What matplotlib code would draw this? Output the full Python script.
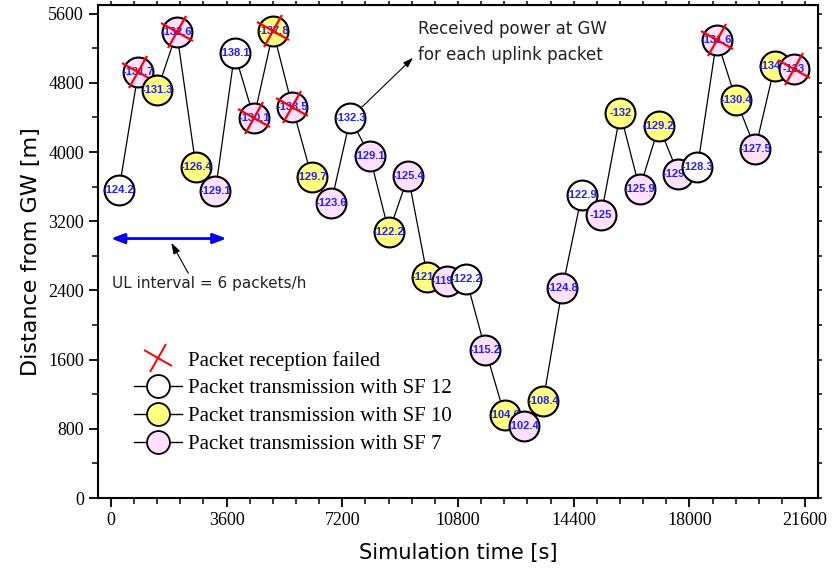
import numpy as np
import matplotlib
matplotlib.use('Agg')
import matplotlib.pyplot as plt
from matplotlib.lines import Line2D
from matplotlib.markers import MarkerStyle
from matplotlib.transforms import Affine2D

# uplink packets: send time [s], GW distance [m], spreading factor, RSSI [dBm]
t_sent = [250, 850, 1450, 2050, 2650, 3250, 3850, 4450, 5050, 5650, 6250, 6850,
          7450, 8050, 8650, 9250, 9850, 10450, 11050, 11650, 12250, 12850, 13450, 14050,
          14650, 15250, 15850, 16450, 17050, 17650, 18250, 18850, 19450, 20050, 20650, 21250]
dist = [3556, 4922, 4719, 5384, 3825, 3545, 5142, 4396, 5396, 4518, 3710, 3406,
        4391, 3960, 3075, 3722, 2555, 2506, 2537, 1717, 958, 831, 1123, 2433,
        3502, 3268, 4449, 3576, 4299, 3749, 3825, 5300, 4604, 4038, 4992, 4962]
sf = [12, 7, 10, 7, 10, 7, 12, 7, 10, 7, 10, 7,
      12, 7, 10, 7, 10, 7, 12, 7, 10, 7, 10, 7,
      12, 7, 10, 7, 10, 7, 12, 7, 10, 7, 10, 7]
rssi = ["-124.2", "-131.7", "-131.3", "-132.6", "-126.4", "-129.1", "-138.1", "-130.1",
        "-137.8", "-133.5", "-129.7", "-123.6", "-132.3", "-129.1", "-122.2", "-125.4",
        "-121.7", "-119.3", "-122.2", "-115.2", "-104.6", "-102.4", "-108.4", "-124.8",
        "-122.9", "-125", "-132", "-125.9", "-129.2", "-129.4", "-128.3", "-131.6",
        "-130.4", "-127.5", "-134.6", "-133"]
failed = [1, 3, 7, 8, 9, 31, 35]

sf_color = {12: 'white', 10: '#ffff80', 7: '#ffe0ff'}

fig = plt.figure(figsize=(8.32, 5.76), dpi=100)
ax = fig.add_axes([0.1178, 0.1354, 0.8654, 0.8559])

ax.plot(t_sent, dist, color='black', lw=0.9, zorder=1)

xmark = MarkerStyle('x', transform=Affine2D().rotate_deg(15))
for k in range(len(t_sent)):
    z = 3 + 3 * k
    ax.plot(t_sent[k], dist[k], 'o', ms=21.5, mfc=sf_color[sf[k]], mec='black',
            mew=1.5, zorder=z)
    ax.text(t_sent[k], dist[k], rssi[k], ha='center', va='center', color='#2020ff',
            fontsize=8, fontweight='bold', family='Liberation Sans', zorder=z + 1)
    if k in failed:
        ax.plot(t_sent[k], dist[k], marker=xmark, ms=19, mec='red', mew=1.6,
                ls='none', zorder=z + 2)

# UL interval marker
ax.annotate('', xy=(0, 3000), xytext=(3600, 3000),
            arrowprops=dict(arrowstyle='<|-|>,head_length=0.8,head_width=0.3',
                            color='blue', lw=2, shrinkA=0, shrinkB=0))
ax.annotate('UL interval = 6 packets/h', xy=(1880, 2950), xytext=(40, 2480),
            fontsize=11, color='#222222', va='center', ha='left',
            arrowprops=dict(arrowstyle='-|>,head_length=0.6,head_width=0.2',
                            color='black', lw=0.8, shrinkA=0, shrinkB=0,
                            relpos=(0.4, 1.0)))
ax.annotate('', xy=(9400, 5090), xytext=(t_sent[12], dist[12]),
            arrowprops=dict(arrowstyle='-|>,head_length=0.6,head_width=0.2',
                            color='black', lw=0.8, shrinkA=0, shrinkB=0), zorder=2)
ax.text(9560, 5270, 'Received power at GW\nfor each uplink packet', fontsize=12,
        color='#222222', va='center', ha='left', linespacing=1.55)

ax.set_xlim(-400, 22000)
ax.set_ylim(0, 5700)
xt = np.arange(0, 21601, 3600)
xm = np.arange(0, 21601, 720)
yt = np.arange(0, 5601, 800)
ym = np.arange(0, 5601, 400)
ax.set_xticks(xt)
ax.set_xticks(xm, minor=True)
ax.set_yticks(yt)
ax.set_yticks(ym, minor=True)
ax.tick_params(which='major', direction='out', length=6.5, width=1.3, labelsize=13)
ax.tick_params(which='minor', direction='out', length=4, width=1.1)
for lab in ax.get_xticklabels() + ax.get_yticklabels():
    lab.set_family('Liberation Serif')
for s in ax.spines.values():
    s.set_linewidth(1.5)

# short ticks on the top and right frame
top = ax.secondary_xaxis('top')
top.set_xticks(xm)
top.tick_params(direction='out', length=3, width=1.1, labeltop=False)
right = ax.secondary_yaxis('right')
right.set_yticks(ym)
right.tick_params(direction='out', length=3, width=1.1, labelright=False)

ax.set_xlabel('Simulation time [s]', fontsize=15, labelpad=10)
ax.set_ylabel('Distance from GW [m]', fontsize=16, labelpad=5)

handles = [
    Line2D([], [], ls='none', marker=xmark, ms=16, mec='red', mew=1.4),
    Line2D([], [], color='black', lw=1, marker='o', ms=16.5, mfc='white', mec='black', mew=1.3),
    Line2D([], [], color='black', lw=1, marker='o', ms=16.5, mfc='#ffff80', mec='black', mew=1.3),
    Line2D([], [], color='black', lw=1, marker='o', ms=16.5, mfc='#ffe0ff', mec='black', mew=1.3),
]
labels = ['Packet reception failed', 'Packet transmission with SF 12',
          'Packet transmission with SF 10', 'Packet transmission with SF 7']
ax.legend(handles, labels, loc='upper left', bbox_to_anchor=(0.035, 0.32),
          frameon=False, prop={'family': 'Liberation Serif', 'size': 15},
          handlelength=2.3, handletextpad=0.3, labelspacing=0.4, borderpad=0)

fig.savefig('out.png', dpi=100)
